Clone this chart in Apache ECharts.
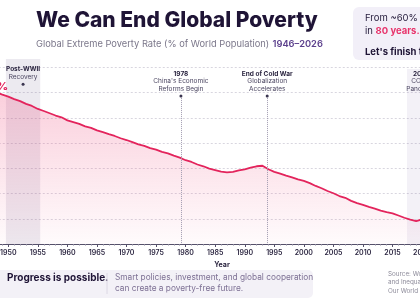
<!DOCTYPE html>
<html>
<head>
<meta charset="utf-8">
<script src="https://cdn.jsdelivr.net/npm/echarts@6/dist/echarts.min.js"></script>
<style>
html, body { margin: 0; padding: 0; background: #fff; }
#main { width: 420px; height: 300px; }
</style>
</head>
<body>
<div id="main"></div>
<script>
// 数据
var years = [1946, 1947, 1948, 1949, 1950, 1951, 1952, 1953, 1954, 1955,
	1956, 1957, 1958, 1959, 1960, 1961, 1962, 1963, 1964, 1965,
	1966, 1967, 1968, 1969, 1970, 1971, 1972, 1973, 1974, 1975,
	1976, 1977, 1978, 1979, 1980, 1981, 1982, 1983, 1984, 1985,
	1986, 1987, 1988, 1989, 1990, 1991, 1992, 1993, 1994, 1995,
	1996, 1997, 1998, 1999, 2000, 2001, 2002, 2003, 2004, 2005,
	2006, 2007, 2008, 2009, 2010, 2011, 2012, 2013, 2014, 2015,
	2016, 2017, 2018, 2019, 2020, 2021, 2022, 2023, 2024, 2025, 2026];
var povertyRate = [61.8, 61.0, 60.1, 59.2, 58.4, 57.4, 56.6, 55.5, 54.7, 53.5,
	52.7, 51.8, 50.9, 50.2, 49.0, 48.3, 47.6, 46.6, 46.0, 45.0,
	44.3, 43.5, 42.8, 41.9, 41.2, 40.4, 39.5, 38.9, 38.0, 37.4,
	36.5, 35.9, 35.0, 34.2, 33.2, 32.5, 31.5, 30.8, 29.9, 29.3,
	28.7, 28.4, 28.6, 29.2, 29.6, 30.3, 30.8, 31.0, 29.6, 28.6,
	27.9, 27.1, 26.4, 25.6, 25.0, 24.1, 23.0, 22.1, 21.0, 20.1,
	19.0, 18.3, 17.1, 16.2, 15.5, 14.7, 14.0, 13.2, 12.6, 12.1,
	11.3, 10.4, 9.7, 9.1, 9.7, 9.4, 9.1, 8.8, 8.6, 8.3, 8.1];
var xTicks = { min: 1945, max: 2030, step: 5 };

// 事件标注
var eventLines = [
	{ year: 1979.2, head: '1978', lines: ["China's Economic", 'Reforms Begin'] },
	{ year: 1993.8, head: 'End of Cold War', lines: ['Globalization', 'Accelerates'] }
];
var eventBands = [
	{ from: 1949.6, to: 1955.4, top: null, head: 'Post-WWII', lines: ['Recovery'] },
	{ from: 2017.45, to: 2022.5, top: 69.3, head: '2020', lines: ['COVID', 'Pandemic'] }
];

var FONT = 'Inter';
var chart = echarts.init(document.getElementById('main'));

var seriesData = [];
for (var i = 0; i < years.length; i++) {
	seriesData.push([years[i], povertyRate[i]]);
}

var labelRich = {
	b: { fontFamily: FONT, fontSize: 6.5, fontWeight: 700, color: '#2b2540', lineHeight: 7.5 },
	n: { fontFamily: FONT, fontSize: 6.5, color: '#4a4560', lineHeight: 7.5 }
};

function fmtLabel(ev) {
	var s = '{b|' + ev.head + '}';
	for (var k = 0; k < ev.lines.length; k++) {
		s += '\n{n|' + ev.lines[k] + '}';
	}
	return s;
}

var markLines = [];
var markPoints = [];
eventLines.forEach(function(ev) {
	markLines.push([{ coord: [ev.year, 58.6] }, { coord: [ev.year, 0] }]);
	markPoints.push({ coord: [ev.year, 58.6], label: { formatter: fmtLabel(ev) } });
});

var markAreas = [];
eventBands.forEach(function(ev, idx) {
	var a = { xAxis: ev.from, itemStyle: { color: idx == 0 ? 'rgba(105,95,140,0.13)' : 'rgba(120,100,170,0.09)' } };
	var b = { xAxis: ev.to };
	if (ev.top != null) {
		a.yAxis = ev.top;
		b.yAxis = 0;
	}
	markAreas.push([a, b]);
	var mid = (ev.from + ev.to) / 2;
	markPoints.push({
		coord: [idx == 0 ? mid : 2019.9, idx == 0 ? 63.3 : 58.6],
		label: { formatter: fmtLabel(ev) }
	});
});

var option = {
	animation: false,
	title: {
		text: 'We Can End Global Poverty',
		subtext: '{g|Global Extreme Poverty Rate (% of World Population)} {p|1946–2026}',
		left: 31,
		top: 5,
		itemGap: 7,
		textStyle: { fontFamily: FONT, fontSize: 21, fontWeight: 800, color: '#1f1436' },
		subtextStyle: {
			rich: {
				g: { fontFamily: FONT, fontSize: 9.3, color: '#7b778a' },
				p: { fontFamily: FONT, fontSize: 9.3, color: '#5b3f8c', fontWeight: 600 }
			}
		}
	},
	grid: { left: -21.25, right: -61.2, top: 59, bottom: 56, outerBoundsMode: 'none', containLabel: false },
	xAxis: {
		type: 'value',
		min: xTicks.min,
		max: xTicks.max,
		interval: xTicks.step,
		name: 'Year',
		nameLocation: 'middle',
		nameGap: 15,
		nameTextStyle: { fontFamily: FONT, fontSize: 7, fontWeight: 700, color: '#2b2540', padding: [0, 16, 0, 0] },
		axisLine: { lineStyle: { color: '#55506a', width: 1 } },
		axisTick: { length: 3, lineStyle: { color: '#55506a' } },
		minorTick: { show: true, splitNumber: 5, length: 1.5, lineStyle: { color: '#8a869a' } },
		splitLine: { show: false },
		axisLabel: {
			fontFamily: FONT, fontSize: 7, fontWeight: 600, color: '#2b2540', margin: 5,
			formatter: function(v) { return String(v); }
		}
	},
	yAxis: {
		type: 'value',
		min: 0,
		max: 73.3,
		interval: 10,
		axisLine: { show: false },
		axisTick: { show: false },
		axisLabel: { show: false },
		splitLine: { showMaxLine: false, lineStyle: { color: '#d8d6df', type: [2, 2] } }
	},
	series: [{
		type: 'line',
		data: seriesData,
		symbol: 'none',
		lineStyle: { color: '#e3245c', width: 1.8 },
		areaStyle: {
			color: new echarts.graphic.LinearGradient(0, 0, 0, 1, [
				{ offset: 0, color: 'rgba(238,70,120,0.38)' },
				{ offset: 1, color: 'rgba(238,70,120,0.03)' }
			])
		},
		markArea: { silent: true, data: markAreas },
		markLine: {
			silent: true,
			symbol: 'none',
			label: { show: false },
			lineStyle: { color: '#a09bb0', type: 'dotted', width: 1 },
			data: markLines
		},
		markPoint: {
			silent: true,
			symbol: 'circle',
			symbolSize: 3,
			itemStyle: { color: '#3a3550' },
			label: { show: true, position: 'top', distance: 2, align: 'center', rich: labelRich },
			data: markPoints
		}
	}],
	graphic: [
		// 起点标签
		{ type: 'text', x: 8, y: 87, style: { text: '60%', fontFamily: FONT, fontSize: 11, fontWeight: 800, fill: '#e3245c', align: 'right', verticalAlign: 'middle' } },
		// 右上提示框
		{ type: 'rect', shape: { x: 353, y: 7, width: 110, height: 53, r: 6 }, style: { fill: '#f2eff8' } },
		{ type: 'text', x: 365, y: 18, style: { text: 'From ~60% to under 10%', fontFamily: FONT, fontSize: 9.5, fill: '#2a2140', verticalAlign: 'middle' } },
		{ type: 'text', x: 365, y: 31, style: {
			text: '{a|in }{r|80 years.}', verticalAlign: 'middle',
			rich: {
				a: { fontFamily: FONT, fontSize: 9.5, fill: '#2a2140' },
				r: { fontFamily: FONT, fontSize: 9.5, fontWeight: 700, fill: '#e8336b' }
			}
		} },
		{ type: 'text', x: 365, y: 52, style: { text: "Let's finish the job.", fontFamily: FONT, fontSize: 9.5, fontWeight: 700, fill: '#1f1436', verticalAlign: 'middle' } },
		// 底部说明
		{ type: 'rect', shape: { x: -6, y: 270, width: 319, height: 28, r: 5 }, style: { fill: '#f3f1f7' } },
		{ type: 'text', x: 7, y: 278, style: { text: 'Progress is possible.', fontFamily: FONT, fontSize: 10, fontWeight: 700, fill: '#1f1436', verticalAlign: 'middle' } },
		{ type: 'line', shape: { x1: 107, y1: 273, x2: 107, y2: 294 }, style: { stroke: '#dcd8e4', lineWidth: 1 } },
		{ type: 'text', x: 115, y: 278, style: { text: 'Smart policies, investment, and global cooperation', fontFamily: FONT, fontSize: 8.3, fill: '#7d7094', verticalAlign: 'middle' } },
		{ type: 'text', x: 115, y: 289, style: { text: 'can create a poverty-free future.', fontFamily: FONT, fontSize: 8.3, fill: '#7d7094', verticalAlign: 'middle' } },
		// 数据来源
		{ type: 'text', x: 388, y: 274, style: { text: 'Source: World Bank Poverty', fontFamily: FONT, fontSize: 6.3, fill: '#8c8a99', verticalAlign: 'middle' } },
		{ type: 'text', x: 388, y: 282.5, style: { text: 'and Inequality Platform;', fontFamily: FONT, fontSize: 6.3, fill: '#8c8a99', verticalAlign: 'middle' } },
		{ type: 'text', x: 388, y: 291, style: { text: 'Our World in Data', fontFamily: FONT, fontSize: 6.3, fill: '#8c8a99', verticalAlign: 'middle' } }
	]
};

chart.setOption(option);
</script>
</body>
</html>
